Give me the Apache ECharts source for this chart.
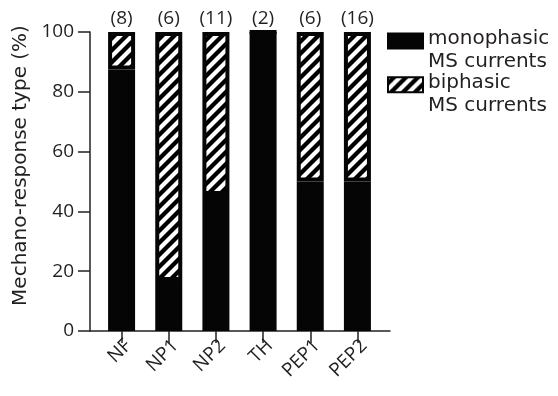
<!DOCTYPE html>
<html><head><meta charset="utf-8">
<script src="https://cdn.jsdelivr.net/npm/echarts@6/dist/echarts.min.js"></script>
<style>html,body{margin:0;padding:0;background:#fff}#c{width:558px;height:396px}</style>
</head><body><div id="c"></div>
<script>
const categories = ['NF', 'NP1', 'NP2', 'TH', 'PEP1', 'PEP2'];
const cellCounts = [8, 6, 11, 2, 6, 16];
const monophasic = [87.5, 16.7, 45.5, 100, 50, 50];
const biphasic = [12.5, 83.3, 54.5, 0, 50, 50];
const yTicks = [0, 20, 40, 60, 80, 100];
const seriesNames = ['monophasic\nMS currents', 'biphasic\nMS currents'];

const FONT = 'Open Sans';
const FONT2 = 'DejaVu Sans';
const TXT = '#231f20';
const AX = '#222';

function hatch() {
  const s = 12;
  const c = document.createElement('canvas');
  c.width = s; c.height = s;
  const g = c.getContext('2d');
  g.fillStyle = '#000'; g.fillRect(0, 0, s, s);
  g.strokeStyle = '#fff'; g.lineWidth = 4.2;
  g.beginPath();
  for (const k of [0, s, 2 * s]) { g.moveTo(-s, k + s); g.lineTo(2 * s, k - 2 * s); }
  g.stroke();
  return c;
}

const countLabels = cellCounts.map(n => '(' + n + ')');
const chart = echarts.init(document.getElementById('c'), null, {renderer: 'canvas'});
chart.setOption({
  animation: false,
  backgroundColor: '#fff',
  textStyle: {fontFamily: FONT, color: TXT},
  grid: [
    {left: 98, right: 177, top: 32, bottom: 65, containLabel: false},
    {left: 90, right: 168, top: 32, bottom: 65, containLabel: false}
  ],
  xAxis: [{
    gridIndex: 0, type: 'category', data: categories, position: 'bottom',
    axisLine: {show: false},
    axisTick: {show: true, alignWithLabel: true, length: 12, lineStyle: {color: AX, width: 1.5}},
    axisLabel: {rotate: 45, fontSize: 19, color: TXT, fontFamily: FONT, margin: 5, verticalAlign: 'top', interval: 0},
    splitLine: {show: false}
  }, {
    gridIndex: 0, type: 'category', data: countLabels, position: 'top',
    axisLine: {show: false}, axisTick: {show: false},
    axisLabel: {fontSize: 19, color: TXT, fontFamily: FONT, margin: 4, interval: 0},
    splitLine: {show: false}
  }, {
    gridIndex: 1, type: 'value', min: 0, max: 1, position: 'bottom',
    axisLine: {show: true, onZero: false, lineStyle: {color: AX, width: 1.5}},
    axisTick: {show: false}, axisLabel: {show: false}, splitLine: {show: false}
  }],
  yAxis: [{
    gridIndex: 0, type: 'value', min: 0, max: 100, show: false
  }, {
    gridIndex: 1, type: 'value', min: 0, max: 100, interval: 20,
    name: 'Mechano-response type (%)', nameLocation: 'middle', nameGap: 58,
    nameTextStyle: {fontSize: 20, color: TXT, fontFamily: FONT2, padding: [0, 0, 0, 32]},
    axisLine: {show: true, onZero: false, lineStyle: {color: AX, width: 1.5}},
    axisTick: {show: true, length: 12, lineStyle: {color: AX, width: 1.5}},
    axisLabel: {fontSize: 19, color: TXT, fontFamily: FONT, margin: 16, customValues: yTicks},
    splitLine: {show: false}
  }],
  legend: {
    orient: 'vertical', left: 382, top: 24, itemWidth: 35, itemHeight: 15, itemGap: 0.7,
    icon: 'rect',
    formatter: name => {
      const p = name.split('\n');
      return '{a|' + p[0] + '}\n{b|' + p[1] + '}';
    },
    textStyle: {
      fontSize: 20, color: TXT, fontFamily: FONT2,
      rich: {
        a: {fontSize: 20, lineHeight: 42, color: TXT, fontFamily: FONT2},
        b: {fontSize: 20, lineHeight: 4, color: TXT, fontFamily: FONT2}
      }
    },
    data: seriesNames
  },
  series: [{
    name: seriesNames[0], type: 'bar', stack: 'a', barWidth: 27, xAxisIndex: 0, yAxisIndex: 0,
    itemStyle: {color: '#050505', borderColor: '#050505', borderWidth: 4},
    data: monophasic
  }, {
    name: seriesNames[1], type: 'bar', stack: 'a', barWidth: 27, xAxisIndex: 0, yAxisIndex: 0,
    itemStyle: {color: {image: hatch(), repeat: 'repeat'}, borderColor: '#050505', borderWidth: 4},
    data: biphasic
  }]
});
</script></body></html>
